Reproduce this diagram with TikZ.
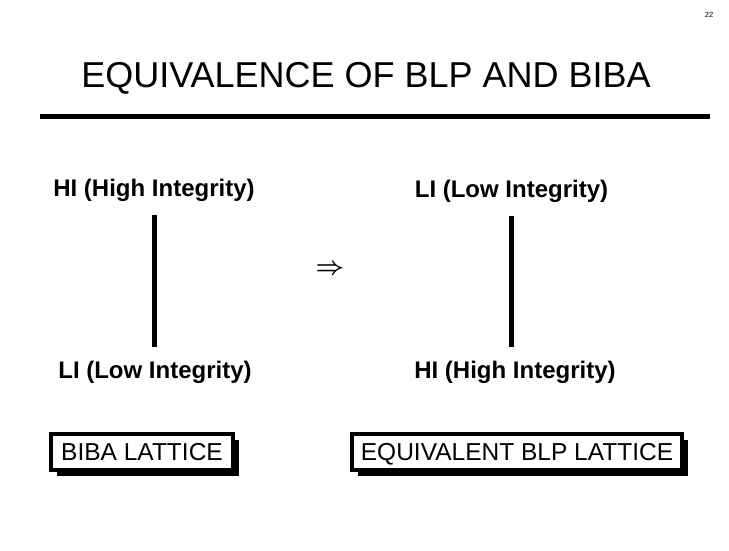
\documentclass[tikz,border=0pt]{standalone}
\usepackage{fontspec}
\setmainfont{Liberation Sans}
\usetikzlibrary{shadows}

\tikzset{
  lbl/.style={font=\fontsize{24}{28}\selectfont\bfseries, inner sep=0pt, anchor=base},
  latbox/.style={draw, line width=4pt, fill=white, inner sep=0pt, minimum height=36pt,
    text height=17.5pt, text depth=0pt,
    font=\fontsize{24.5}{28}\selectfont,
    general shadow={fill=black, shadow xshift=6pt, shadow yshift=-6pt}},
  bar/.style={line width=5pt, shorten <=14pt, shorten >=13.5pt}
}

\begin{document}
\begin{tikzpicture}[x=1pt,y=-1pt]
				\useasboundingbox (0,0) rectangle (729,551);
				
				% slide number and heading
				\node[inner sep=0pt] (pagenum) at (709,15) {\fontsize{7.5}{8}\selectfont 22};
				\node[inner sep=0pt, anchor=base] (title) at (366,88) {\fontsize{36}{40}\selectfont EQUIVALENCE OF BLP AND BIBA};
				\draw[line width=5pt] (40,117) -- (710,117);
				
				% Biba side: high on top
				\node[lbl] (hiA) at (154,196) {HI (High Integrity)};
				\node[lbl] (loA) at (155,378) {LI (Low Integrity)};
				\draw[bar] (hiA.south) -- (hiA.south |- loA.north);
				
				% BLP side: low on top
				\node[lbl] (loB) at (511.5,197) {LI (Low Integrity)};
				\node[lbl] (hiB) at (515,378) {HI (High Integrity)};
				\draw[bar] (loB.south) -- (loB.south |- hiB.north);
				
				% implication sign between the two
				\node[font=\fontsize{25}{28}\selectfont\mathversion{bold}] (imp) at (330,270) {$\Rightarrow$};
				
				% captions under each lattice
				\node[latbox, minimum width=182pt] (bibabox) at (142,452) {BIBA LATTICE};
				\node[latbox, minimum width=330pt] (blpbox) at (517,452) {EQUIVALENT BLP LATTICE};
				
\end{tikzpicture}
\end{document}
